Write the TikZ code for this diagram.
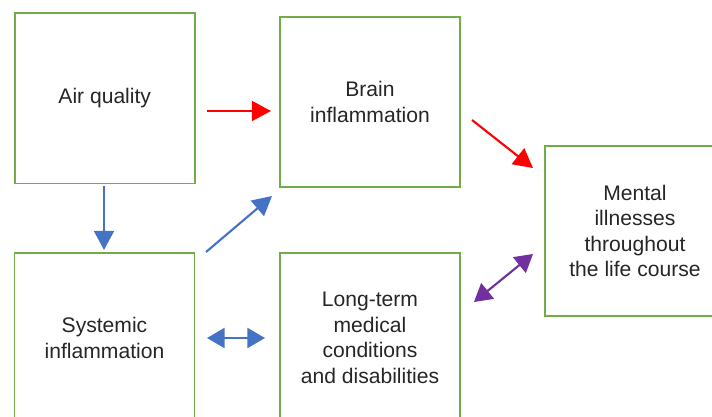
\documentclass[tikz,border=0pt]{standalone}
\usepackage{fontspec}
\setmainfont{Liberation Sans}
\usetikzlibrary{arrows.meta}

\definecolor{boxgreen}{RGB}{112,173,71}
\definecolor{linkblue}{RGB}{68,114,196}
\definecolor{linkred}{RGB}{255,0,0}
\definecolor{linkpurple}{RGB}{112,48,160}
\definecolor{textgray}{RGB}{38,38,38}

\begin{document}
\begin{tikzpicture}[x=0.025cm,y=-0.025cm,
  box/.style={draw=boxgreen,line width=1.1pt,minimum width=4.5cm,minimum height=4.25cm,
    inner sep=0pt,align=center,text=textgray,font=\fontsize{15}{18.2}\selectfont},
  link/.style={line width=1.5pt,-{Triangle[length=0.48cm,width=0.5cm]}},
  twoway/.style={line width=1.5pt,{Triangle[length=0.44cm,width=0.5cm]}-{Triangle[length=0.44cm,width=0.5cm]}}]
  \path[use as bounding box,clip] (0,0) rectangle (712,416);

  \node[box] (air) at (104.75,98.25) {Air quality};
  \node[box] (brain) at (370,102) {Brain\\inflammation};
  \node[box] (mental) at (635,231) {Mental\\illnesses\\throughout\\the life course};
  \node[box] (systemic) at (104.5,338) {Systemic\\inflammation};
  \node[box] (longterm) at (370,338) {Long-term\\medical\\conditions\\and disabilities};

  \coordinate (a1) at (207,111);
  \coordinate (a2) at (271,111);
  \coordinate (b1) at (472,120);
  \coordinate (b2) at (533,168);
  \coordinate (c1) at (104,186);
  \coordinate (c2) at (104,250);
  \coordinate (d1) at (206,252);
  \coordinate (d2) at (272,196);
  \coordinate (e1) at (207,338);
  \coordinate (e2) at (265,338);
  \coordinate (f1) at (474,302);
  \coordinate (f2) at (533,254);

  \draw[link,linkred] (a1) -- (a2);
  \draw[link,linkred] (b1) -- (b2);
  \draw[link,linkblue] (c1) -- (c2);
  \draw[link,linkblue] (d1) -- (d2);
  \draw[twoway,linkblue] (e1) -- (e2);
  \draw[twoway,linkpurple] (f1) -- (f2);
\end{tikzpicture}
\end{document}
